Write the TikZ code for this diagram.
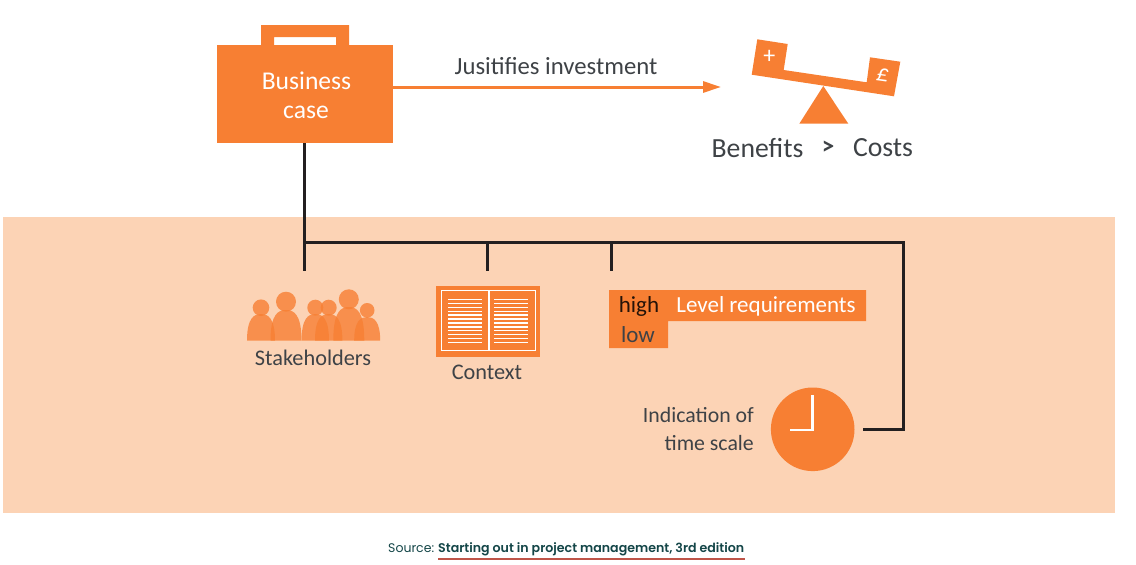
\documentclass[tikz,border=0pt]{standalone}
\usepackage{fontspec}
\setmainfont{Carlito}
\newfontfamily\sourcefont{Poppins}
\newfontfamily\sourcebold{Poppins SemiBold}
\usetikzlibrary{
	positioning,
	calc,
	arrows.meta
}
\definecolor{CaseOrange}{RGB}{247,127,51}
\definecolor{BandPeach}{RGB}{252,211,181}
\definecolor{WireBlack}{RGB}{35,31,32}
\definecolor{LabelGrey}{RGB}{62,66,70}
\definecolor{SourceGreen}{RGB}{20,70,72}
\definecolor{SourceRed}{RGB}{190,84,72}

\tikzset{
	wire/.style={draw=WireBlack,line width=3pt},
	label24/.style={text=LabelGrey,inner sep=0pt,align=center,font=\fontsize{27.7}{30}\selectfont},
	label20/.style={text=LabelGrey,inner sep=0pt,align=center,font=\fontsize{22.3}{28}\selectfont},
	panel/.style={fill=CaseOrange,inner sep=0pt,outer sep=0pt}
}

\begin{document}
\begin{tikzpicture}[x=1pt,y=-1pt]
				
				\useasboundingbox (0,0) rectangle (1136,565);
				\fill[BandPeach] (3,217) rectangle (1115,513);
				
				% briefcase
				\fill[CaseOrange,even odd rule] (261,25) rectangle (349,46) (274,37) rectangle (336,45);
				\node[
				panel,
				minimum width=176pt,
				minimum height=98pt
				]
				(case)
				at (305,94)
				{};
				\node[text=white,inner sep=0pt,font=\fontsize{25.6}{31}\selectfont] (caseA) at (306.5,81) {Business};
				\node[text=white,inner sep=0pt,font=\fontsize{25.6}{31}\selectfont] (caseB) at (306,112) {case};
				
				% scales
				\coordinate (target) at (721,87);
				\draw[CaseOrange,line width=3pt,-{Triangle[length=18pt,width=11pt]}] (case.east |- target) -- (target);
				\node[label24,font=\fontsize{24.7}{30}\selectfont] (just) at (556,66) {Jusitifies investment};
				\fill[CaseOrange] (757.3,39.3) -- (787.7,44) -- (783.7,70) -- (866.7,82.3) -- (870,57.3)
				-- (900.3,61.7) -- (894,96.3) -- (751.7,74.7) -- cycle;
				\fill[CaseOrange] (823.3,86) -- (848.3,123.7) -- (799.3,123.7) -- cycle;
				\node[text=white,inner sep=0pt,font=\fontsize{24}{26}\selectfont] (plus) at (769.3,56.5) {+};
				\node[text=white,inner sep=0pt,rotate=-8,font=\fontsize{24}{26}\selectfont\itshape] (pound) at (882.5,75.5) {£};
				\node[label24] (benefits) at (757.5,148) {Benefits};
				\node[label24,font=\fontsize{25}{30}\selectfont\bfseries] (gt) at (828,148) {>};
				\node[label24] (costs) at (883,148) {Costs};
				
				% wiring
				\coordinate (tap) at (304.5,242);
				\coordinate (peopleEnd) at (304.5,271);
				\coordinate (bookTop) at (487.5,242);
				\coordinate (bookEnd) at (487.5,271);
				\coordinate (levelTop) at (611,242);
				\coordinate (levelEnd) at (611,271);
				\coordinate (turn) at (903,429);
				\coordinate (clockEnd) at (863,429);
				\draw[wire] (case.south -| tap) -- (peopleEnd);
				\draw[wire] (tap) -| (turn) -- (clockEnd);
				\draw[wire] (bookTop) -- (bookEnd);
				\draw[wire] (levelTop) -- (levelEnd);
				
				% stakeholders
				\foreach \px/\hy/\hr/\bw/\bt in {
					261/307.7/8.3/14/314,
					286/301.7/10/15.5/310,
					315.3/307.7/8/13.7/314,
					328.7/307.7/8/13.7/314,
					348.8/299.3/10/15.5/307,
					367.2/310.3/7.3/13/317}{
					\fill[CaseOrange,opacity=.8] (\px,\hy) circle (\hr);
					\fill[CaseOrange,opacity=.8] (\px-\bw,340.7) .. controls (\px-\bw,\bt+4) and (\px-.5*\bw,\bt) .. (\px,\bt)
					.. controls (\px+.5*\bw,\bt) and (\px+\bw,\bt+4) .. (\px+\bw,340.7) -- cycle;
				}
				\node[label20] (people) at (313,358) {Stakeholders};
				
				% open book
				\fill[CaseOrange] (436,285.7) rectangle (540.4,357);
				\draw[white,line width=1pt] (441.7,290.7) rectangle (535.7,350.3);
				\draw[white,line width=1.5pt] (489,290.7) -- (489,350.3);
				\foreach \ly in {299.5,303.4,307.3,311.2,315.1,319,322.9,326.8,330.7,334.6,338.5,342.4}{
					\draw[white,line width=1.4pt] (448.3,\ly) -- (482.3,\ly);
					\draw[white,line width=1.4pt] (494.3,\ly) -- (528.3,\ly);
				}
				\node[label20] (context) at (487,372) {Context};
				
				% requirements tab
				\fill[CaseOrange] (609,290) -| (866,321) -| (668,348) -| cycle;
				\node[inner sep=0pt,text=black!85!CaseOrange,font=\fontsize{23}{26}\selectfont] (high) at (639,306) {high};
				\node[inner sep=0pt,text=LabelGrey,font=\fontsize{23}{26}\selectfont] (low) at (638,334.5) {low};
				\node[inner sep=0pt,text=white,font=\fontsize{23}{26}\selectfont] (level) at (766,306) {Level requirements};
				
				% clock
				\node[circle,fill=CaseOrange,minimum size=83.6pt,inner sep=0pt] (clock) at (812.7,429.3) {};
				\draw[white,line width=2.5pt] (clock.center |- 0,395) |- (790,430);
				\node[label20,font=\fontsize{21.8}{28}\selectfont,align=right,anchor=east] (scale) at (754,429) {Indication of\\time scale};
				
				% source line
				\node[inner sep=0pt,anchor=base west,text=SourceGreen,font=\sourcefont\fontsize{12.5}{15}\selectfont] (srcA) at (388,552) {Source:};
				\node[inner sep=0pt,anchor=base west,text=SourceGreen,font=\sourcebold\fontsize{12.6}{15}\selectfont] (srcB) at (438,552) {Starting out in project management, 3rd edition};
				\coordinate (ruleA) at (438,558.5);
				\draw[SourceRed,line width=2pt] (ruleA) -- (745,558.5);
				
\end{tikzpicture}
\end{document}
